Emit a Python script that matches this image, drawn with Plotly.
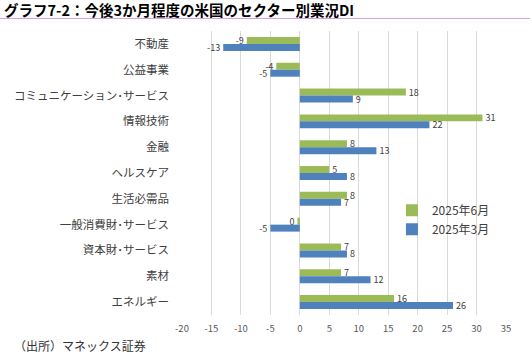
import plotly.graph_objects as go

categories = ["不動産", "公益事業", "コミュニケーション･サービス", "情報技術", "金融", "ヘルスケア",
              "生活必需品", "一般消費財･サービス", "資本財･サービス", "素材", "エネルギー"]
jun_2025 = [-9, -4, 18, 31, 8, 5, 8, -0.4, 7, 7, 16]
mar_2025 = [-13, -5, 9, 22, 13, 8, 7, -5, 8, 12, 26]
series_names = ["2025年6月", "2025年3月"]
x_ticks = [-20, -15, -10, -5, 0, 5, 10, 15, 20, 25, 30, 35]

FONT = "Noto Sans CJK JP"
GREEN = "#9BBB59"
BLUE = "#4F81BD"

def labels(vals):
    return [str(int(round(v))) for v in vals]

fig = go.Figure()
for name, vals, col in [(series_names[0], jun_2025, GREEN), (series_names[1], mar_2025, BLUE)]:
    fig.add_trace(go.Bar(
        y=categories, x=vals, name=name, orientation="h",
        marker=dict(color=col, line=dict(width=0)),
        text=labels(vals), textposition="outside", cliponaxis=False,
        constraintext="none",
        textfont=dict(family=FONT, size=9, color="#404040"),
    ))

fig.update_layout(
    width=532, height=362,
    margin=dict(l=182, r=26, t=31, b=47),
    paper_bgcolor="white", plot_bgcolor="white",
    barmode="group", bargap=0.46, bargroupgap=0,
    font=dict(family=FONT, color="#404040"),
    showlegend=True,
    legend=dict(x=0.648, y=0.335, xanchor="left", yanchor="middle",
                font=dict(family=FONT, size=12, color="#404040"),
                bgcolor="rgba(255,255,255,0)", itemwidth=30, tracegroupgap=6),
    xaxis=dict(range=[-20, 35], tickvals=x_ticks, ticktext=[str(v) for v in x_ticks],
               showgrid=True, gridcolor="#D9D9D9",
               gridwidth=1, zeroline=False, showline=False, ticks="", ticklabelstandoff=6,
               tickfont=dict(family=FONT, size=9.5, color="#595959")),
    yaxis=dict(autorange="reversed", showgrid=False, zeroline=False, showline=False,
               ticks="", ticklabelstandoff=12,
               tickfont=dict(family=FONT, size=11.5, color="#404040")),
    shapes=[dict(type="line", xref="paper", yref="paper", x0=-182/324, x1=(530-182)/324,
                 y0=1 + (31-18.5)/284, y1=1 + (31-18.5)/284,
                 line=dict(color="#D7A0E0", width=1))],
    annotations=[
        dict(text="<b>グラフ7-2：今後3か月程度の米国のセクター別業況DI</b>", xref="paper", yref="paper",
             x=-180/324, y=1 + (31-10)/284, xanchor="left", yanchor="middle", showarrow=False,
             font=dict(family=FONT, size=14.5, color="black")),
        dict(text="（出所）マネックス証券", xref="paper", yref="paper",
             x=-170/324, y=-(345-315)/284, xanchor="left", yanchor="middle", showarrow=False,
             font=dict(family=FONT, size=12, color="#333333")),
    ],
)

fig.write_html("out.html", post_script="document.body.style.margin='0';",
               config={"displayModeBar": False})
